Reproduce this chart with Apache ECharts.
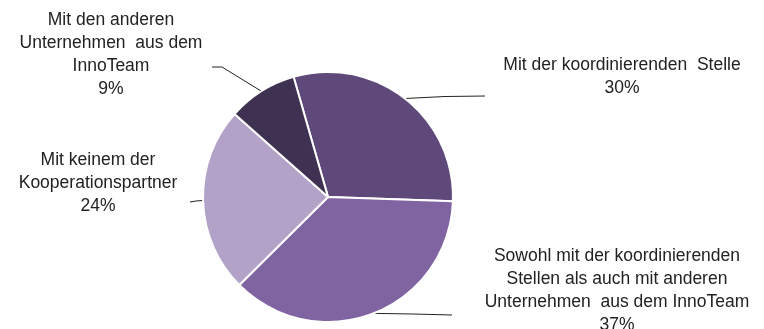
<!DOCTYPE html>
<html><head><meta charset="utf-8">
<script src="https://cdn.jsdelivr.net/npm/echarts@6/dist/echarts.min.js"></script>
<style>html,body{margin:0;padding:0;background:#fff}#c{width:764px;height:329px}</style>
</head><body><div id="c"></div>
<script>
const categories = [
  "Mit der koordinierenden  Stelle",
  "Sowohl mit der koordinierenden\nStellen als auch mit anderen\nUnternehmen  aus dem InnoTeam",
  "Mit keinem der\nKooperationspartner",
  "Mit den anderen\nUnternehmen  aus dem\nInnoTeam"
];
const values = [30, 37, 24, 9];
const colors = ["#5f497a", "#8064a2", "#b2a2c7", "#3f3151"];
// label anchor positions and leader-line bends (layout only)
const labelPos = [[622, 77], [617, 291], [98, 183], [111, 55]];
const lineBends = [
  [[445, 96.5], [485, 96]],
  [[413, 314], [452, 315]],
  [[196, 201], [190, 202]],
  [[222, 67], [212, 67]]
];

const chart = echarts.init(document.getElementById('c'));
chart.setOption({
  animation: false,
  series: [{
    type: 'pie',
    center: [328, 197],
    radius: 125,
    startAngle: 106,
    clockwise: true,
    data: categories.map((n, i) => ({ name: n, value: values[i], itemStyle: { color: colors[i] } })),
    itemStyle: { borderColor: '#fff', borderWidth: 2 },
    label: {
      show: true,
      formatter: p => p.name + '\n' + p.value + '%',
      fontFamily: 'Liberation Sans, Arial, sans-serif',
      fontSize: 17.5,
      lineHeight: 23,
      color: '#222',
      align: 'center',
      overflow: 'none',
      width: 400
    },
    labelLine: { show: true, length: 20, length2: 40, lineStyle: { color: '#222', width: 1 } },
    labelLayout: function (params) {
      const i = params.dataIndex;
      const p = labelPos[i];
      const start = params.labelLinePoints ? params.labelLinePoints[0] : null;
      const out = { x: p[0], y: p[1], align: 'center', verticalAlign: 'middle' };
      if (start) out.labelLinePoints = [start].concat(lineBends[i]);
      return out;
    }
  }]
});
</script>
</body></html>
